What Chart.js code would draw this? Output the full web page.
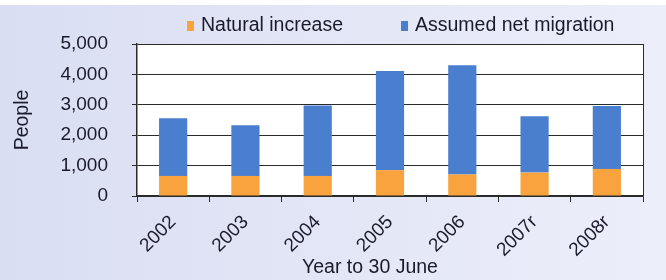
<!DOCTYPE html>
<html>
<head>
<meta charset="utf-8">
<script src="https://cdn.jsdelivr.net/npm/chart.js@4/dist/chart.umd.min.js"></script>
<style>
  html, body { margin: 0; padding: 0; }
  body {
    width: 666px; height: 280px; overflow: hidden; position: relative;
    background: linear-gradient(to right, #dadef2, #eceefa);
    font-family: "Liberation Sans", Arial, sans-serif;
  }
  #strip { position: absolute; left: 0; top: 0; width: 666px; height: 5px; background: #fff; }
  #chart { position: absolute; left: 0; top: 0; }
  .leg { position: absolute; top: 14px; font-size: 19.5px; color: #1a1a2a; white-space: nowrap; line-height: 20px; }
  .leg i { display: inline-block; width: 7px; height: 10px; margin-right: 7px; vertical-align: 0px; }
</style>
</head>
<body>
<div id="strip"></div>
<canvas id="chart" width="666" height="280"></canvas>
<div class="leg" style="left:187px"><i style="background:#f9a33f"></i>Natural increase</div>
<div class="leg" style="left:401px"><i style="background:#4a7ecf"></i>Assumed net migration</div>
<script>
const years = ['2002', '2003', '2004', '2005', '2006', '2007r', '2008r'];
const naturalIncrease = [660, 660, 660, 850, 710, 770, 890];
const netMigration = [1900, 1670, 2320, 3260, 3590, 1850, 2070];
const yTicks = [0, 1000, 2000, 3000, 4000, 5000];

const textColor = '#1a1a2a';
const lineColor = '#2a2a2a';
const fontFamily = '"Liberation Sans", Arial, sans-serif';

// white plot area + x title placed like the original
const plotBg = {
  id: 'plotBg',
  beforeDraw(chart) {
    const a = chart.chartArea;
    const ctx = chart.ctx;
    ctx.save();
    ctx.fillStyle = '#ffffff';
    ctx.fillRect(a.left, a.top, a.right - a.left, a.bottom - a.top);
    ctx.restore();
  },
  afterDraw(chart) {
    const ctx = chart.ctx;
    ctx.save();
    ctx.font = '19.5px ' + fontFamily;
    ctx.fillStyle = textColor;
    ctx.textAlign = 'center';
    ctx.textBaseline = 'alphabetic';
    ctx.fillText('Year to 30 June', 370, 273);
    ctx.restore();
  }
};

const ctx = document.getElementById('chart').getContext('2d');
new Chart(ctx, {
  type: 'bar',
  data: {
    labels: years,
    datasets: [
      {
        label: 'Natural increase',
        data: naturalIncrease,
        backgroundColor: '#f9a33f',
        barPercentage: 0.39,
        categoryPercentage: 1
      },
      {
        label: 'Assumed net migration',
        data: netMigration,
        backgroundColor: '#4a7ecf',
        barPercentage: 0.39,
        categoryPercentage: 1
      }
    ]
  },
  options: {
    responsive: false,
    animation: false,
    layout: { padding: { top: 44, right: 23, left: 0, bottom: 0 } },
    plugins: {
      legend: { display: false },
      tooltip: { enabled: false }
    },
    scales: {
      x: {
        stacked: true,
        afterFit(scale) { scale.height = 84; },
        grid: {
          drawOnChartArea: true,
          color: c => (c.type === 'tick' ? 'rgba(0,0,0,0)' : lineColor),
          tickColor: lineColor,
          tickLength: 6
        },
        border: { color: lineColor, width: 1.5 },
        ticks: {
          autoSkip: false,
          minRotation: 45,
          maxRotation: 45,
          padding: 9,
          color: textColor,
          font: { family: fontFamily, size: 19 }
        }
      },
      y: {
        stacked: true,
        min: 0,
        max: 5000,
        afterFit(scale) { scale.width = 137; },
        afterBuildTicks(scale) { scale.ticks = yTicks.map(v => ({ value: v })); },
        grid: { color: lineColor, tickLength: 5 },
        border: { color: lineColor, width: 1.5 },
        ticks: {
          padding: 24,
          color: textColor,
          font: { family: fontFamily, size: 19 }
        },
        title: {
          display: true,
          text: 'People',
          color: textColor,
          padding: { top: 11, bottom: 0 },
          font: { family: fontFamily, size: 19.5 }
        }
      }
    }
  },
  plugins: [plotBg]
});
</script>
</body>
</html>
